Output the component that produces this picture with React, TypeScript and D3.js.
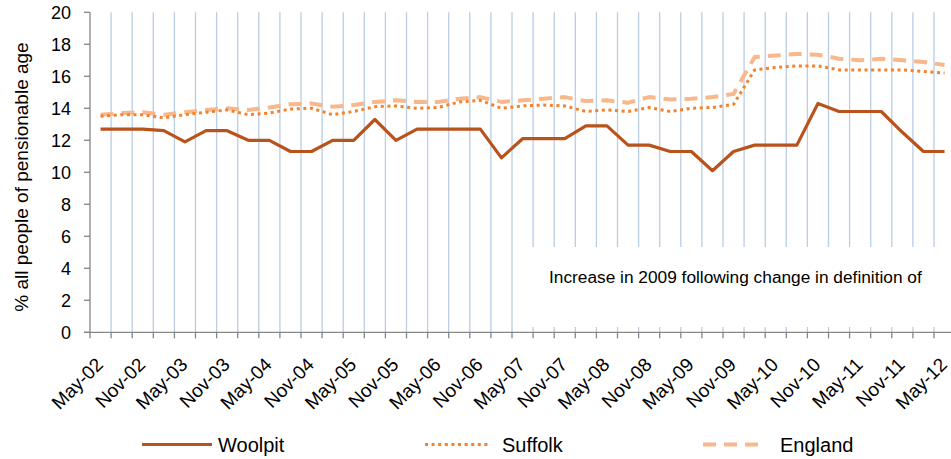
import React from "react";
import * as d3 from "d3";

const categories = [
  "May-02","Aug-02","Nov-02","Feb-03","May-03","Aug-03","Nov-03","Feb-04","May-04","Aug-04","Nov-04",
  "Feb-05","May-05","Aug-05","Nov-05","Feb-06","May-06","Aug-06","Nov-06","Feb-07","May-07","Aug-07",
  "Nov-07","Feb-08","May-08","Aug-08","Nov-08","Feb-09","May-09","Aug-09","Nov-09","Feb-10","May-10",
  "Aug-10","Nov-10","Feb-11","May-11","Aug-11","Nov-11","Feb-12","May-12",
];

const woolpit = [
  12.7, 12.7, 12.7, 12.6, 11.9, 12.6, 12.6, 12.0, 12.0, 11.3, 11.3, 12.0, 12.0, 13.3, 12.0, 12.7, 12.7,
  12.7, 12.7, 10.9, 12.1, 12.1, 12.1, 12.9, 12.9, 11.7, 11.7, 11.3, 11.3, 10.1, 11.3, 11.7, 11.7, 11.7,
  14.3, 13.8, 13.8, 13.8, 12.5, 11.3, 11.3,
];

const suffolk = [
  13.5, 13.6, 13.6, 13.4, 13.6, 13.75, 13.9, 13.6, 13.7, 13.95, 14.0, 13.6, 13.8, 14.1, 14.15, 14.0,
  14.05, 14.4, 14.5, 14.0, 14.15, 14.2, 14.15, 13.8, 13.9, 13.8, 14.05, 13.8, 14.0, 14.05, 14.25, 16.4,
  16.55, 16.65, 16.65, 16.4, 16.4, 16.4, 16.4, 16.3, 16.2,
];

const england = [
  13.6, 13.7, 13.75, 13.6, 13.75, 13.9, 14.0, 13.9, 14.05, 14.25, 14.3, 14.1, 14.2, 14.4, 14.5, 14.4,
  14.4, 14.6, 14.7, 14.4, 14.5, 14.6, 14.7, 14.45, 14.5, 14.35, 14.7, 14.55, 14.6, 14.7, 14.9, 17.2,
  17.3, 17.4, 17.35, 17.1, 17.0, 17.1, 17.0, 16.9, 16.7,
];

const yTicks = [0, 2, 4, 6, 8, 10, 12, 14, 16, 18, 20];

const seriesNames = ["Woolpit", "Suffolk", "England"];

const yTitle = "% all people of pensionable age";
const annotation = "Increase in 2009 following change in definition of";

const W = 951;
const H = 459;
const FONT = "'Liberation Sans', Arial, sans-serif";

export default function App() {
  const left = 90;
  const step = 21.1;
  const x = d3
    .scaleBand<string>()
    .domain(categories)
    .range([left, left + step * categories.length])
    .padding(0);
  const y = d3.scaleLinear().domain([0, 20]).range([332.3, 12.3]);
  const cx = (i: number) => (x(categories[i]) as number) + x.bandwidth() / 2;

  const line = d3
    .line<number>()
    .x((_, i) => cx(i))
    .y((d) => y(d));

  const boundaries = categories.map((c) => x(c) as number);

  const series = [
    { name: seriesNames[0], data: woolpit, color: "#B9531C", width: 3.2, dash: undefined as string | undefined },
    { name: seriesNames[1], data: suffolk, color: "#F5822A", width: 3, dash: "3 3.6" },
    { name: seriesNames[2], data: england, color: "#F8B88B", width: 4, dash: "13 8" },
  ];

  const legend = [
    { x1: 142, x2: 212, tx: 218 },
    { x1: 425, x2: 490, tx: 502 },
    { x1: 703, x2: 760, tx: 780 },
  ];

  return (
    <svg
      width={W}
      height={H}
      style={{ position: "absolute", left: 0, top: 0, display: "block", background: "#fff" }}
      fontFamily={FONT}
    >
      <rect x={0} y={0} width={W} height={H} fill="#fff" />
      {/* vertical gridlines */}
      {boundaries.slice(1).map((bx, i) => (
        <line key={"g" + i} x1={bx} x2={bx} y1={y(20)} y2={y(0)} stroke="#B9CDE5" strokeWidth={1.3} />
      ))}
      {/* annotation box */}
      <rect x={514} y={247} width={W - 514} height={80} fill="#fff" />
      <text x={549} y={282.5} fontSize={17.3} fill="#000">
        {annotation}
      </text>
      {/* y axis */}
      <line x1={left} x2={left} y1={y(20)} y2={y(0)} stroke="#868686" strokeWidth={1.3} />
      {yTicks.map((t) => (
        <g key={"yt" + t}>
          <line x1={left - 6} x2={left} y1={y(t)} y2={y(t)} stroke="#868686" strokeWidth={1.3} />
          <text x={71} y={y(t)} dy="0.35em" textAnchor="end" fontSize={18} fill="#000">
            {t}
          </text>
        </g>
      ))}
      {/* x axis */}
      <line x1={left - 6} x2={W} y1={y(0)} y2={y(0)} stroke="#868686" strokeWidth={1.3} />
      {boundaries.map((bx, i) => (
        <line key={"xt" + i} x1={bx} x2={bx} y1={y(0)} y2={y(0) + 6} stroke="#868686" strokeWidth={1.3} />
      ))}
      {categories.map((c, i) =>
        i % 2 === 0 ? (
          <text
            key={"xl" + c}
            transform={`translate(${cx(i) - 1},${361}) rotate(-45)`}
            textAnchor="end"
            dy="0.35em"
            fontSize={19}
            fill="#000"
          >
            {c}
          </text>
        ) : null
      )}
      {/* y title */}
      <text
        transform={`translate(28,${177}) rotate(-90)`}
        textAnchor="middle"
        fontSize={19}
        fill="#000"
      >
        {yTitle}
      </text>
      {/* series lines */}
      {series
        .slice()
        .reverse()
        .map((s) => (
          <path
            key={s.name}
            d={line(s.data) as string}
            fill="none"
            stroke={s.color}
            strokeWidth={s.width}
            strokeDasharray={s.dash}
            strokeLinejoin="round"
          />
        ))}
      {/* legend */}
      {series.map((s, i) => (
        <g key={"lg" + s.name}>
          <line
            x1={legend[i].x1}
            x2={legend[i].x2}
            y1={444.5}
            y2={444.5}
            stroke={s.color}
            strokeWidth={s.width}
            strokeDasharray={s.dash}
          />
          <text x={legend[i].tx} y={452.3} fontSize={20} fill="#000">
            {s.name}
          </text>
        </g>
      ))}
    </svg>
  );
}
